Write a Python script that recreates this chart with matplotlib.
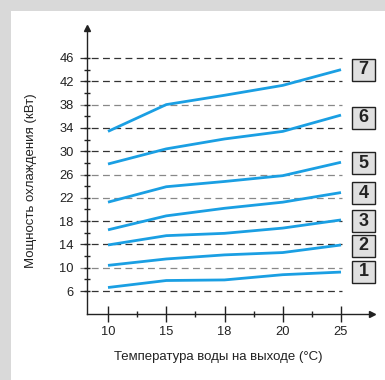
import matplotlib
matplotlib.use("Agg")
import matplotlib.pyplot as plt
from matplotlib.patches import Rectangle
import numpy as np

plt.rcParams['font.family'] = ['Liberation Sans', 'DejaVu Sans']

# ---- data ----
x_labels = ['10', '15', '18', '20', '25']
series_names = ['1', '2', '3', '4', '5', '6', '7']
line1 = [6.6, 7.8, 7.9, 8.8, 9.25]
line2 = [10.4, 11.5, 12.2, 12.6, 13.9]
line3 = [13.9, 15.5, 15.9, 16.8, 18.2]
line4 = [16.5, 18.9, 20.2, 21.25, 22.9]
line5 = [21.25, 23.9, 24.8, 25.8, 28.1]
line6 = [27.8, 30.4, 32.1, 33.4, 36.2]
line7 = [33.4, 38.0, 39.6, 41.3, 44.0]
y_major = [6, 10, 14, 18, 22, 26, 30, 34, 38, 42, 46]
y_minor = [8, 12, 16, 20, 24, 28, 32, 36, 40, 44]
grid_dark = [True, False, True, True, False, False, True, True, False, True, True]  # 6..46
box_centers_px = [272, 245.5, 221, 193, 163, 118, 70]

W, H = 385, 380
fig = plt.figure(figsize=(W / 100, H / 100), dpi=100)
fig.patch.set_facecolor('#d9d9d9')
fig.patches.append(Rectangle((11 / W, 0), 1, (H - 11) / H, transform=fig.transFigure,
                             facecolor='white', edgecolor='none', zorder=-10))

ax_l, ax_r, ax_t, ax_b = 87, 372, 28, 314
ax = fig.add_axes([ax_l / W, (H - ax_b) / H, (ax_r - ax_l) / W, (ax_b - ax_t) / H])
ax.set_facecolor('none')
ax.set_zorder(1)

xpos = np.arange(len(x_labels))
pxu = (341 - 108) / 4.0
x0 = (ax_l - 108) / pxu
x1 = (ax_r - 108) / pxu
ppu = (291 - 58) / 40.0
y0 = 6 - (ax_b - 291) / ppu
y1 = 46 + (58 - ax_t) / ppu
ax.set_xlim(x0, x1)
ax.set_ylim(y0, y1)

for sp in ['top', 'right']:
    ax.spines[sp].set_visible(False)
for sp in ['left', 'bottom']:
    ax.spines[sp].set_color('#222222')
    ax.spines[sp].set_linewidth(1.0)

# arrows
ax.plot([x0], [y1], marker='^', color='#222222', markersize=4, clip_on=False)
ax.plot([x1], [y0], marker='>', color='#222222', markersize=4, clip_on=False)

# grid lines
gx0 = (80 - 108) / pxu
gx1 = (342 - 108) / pxu
for yv, dark in zip(y_major, grid_dark):
    ax.plot([gx0, gx1], [yv, yv], color='#333333' if dark else '#888888',
            lw=0.9, linestyle=(0, (5.5, 3.5)), clip_on=False, zorder=1)

series = [line1, line2, line3, line4, line5, line6, line7]
for s in series:
    ax.plot(xpos, s, color='#1a9fe3', lw=2.0, solid_capstyle='butt', zorder=3)

ax.set_xticks(xpos)
ax.set_xticklabels(x_labels)
ax.set_xticks([0.5, 1.5, 2.5, 3.5], minor=True)
ax.set_yticks(y_major)
ax.set_yticklabels([str(v) for v in y_major])
ax.set_yticks(y_minor, minor=True)

ax.tick_params(axis='x', which='major', direction='inout', length=11, width=1.0,
               color='#222222', labelsize=9.3, pad=3, labelcolor='#222222')
ax.tick_params(axis='x', which='minor', direction='inout', length=4.5, width=1.0,
               color='#222222')
ax.tick_params(axis='y', which='major', direction='inout', length=5, width=1.0,
               color='#222222', labelsize=9.3, pad=7, labelcolor='#222222')
ax.tick_params(axis='y', which='minor', direction='inout', length=4, width=1.0,
               color='#222222')

# numbered boxes
bw, bh = 23, 22
for name, cy in zip(series_names, box_centers_px):
    fig.patches.append(Rectangle(((352) / W, (H - cy - bh / 2) / H), bw / W, bh / H,
                                 transform=fig.transFigure, facecolor='#e0e0e0',
                                 edgecolor='#222222', lw=1.0, zorder=5))
    fig.text((352 + bw / 2) / W, (H - cy) / H, name, ha='center', va='center',
             fontsize=13, fontweight='bold', color='#222222', zorder=6)

fig.text(218 / W, (H - 357) / H, 'Температура воды на выходе (°C)', ha='center',
         va='center', fontsize=9.5, color='#222222')
fig.text(31 / W, (H - 181) / H, 'Мощность охлаждения (кВт)', ha='center',
         va='center', rotation=90, fontsize=9.5, color='#222222')

fig.savefig('out.png', dpi=100)
